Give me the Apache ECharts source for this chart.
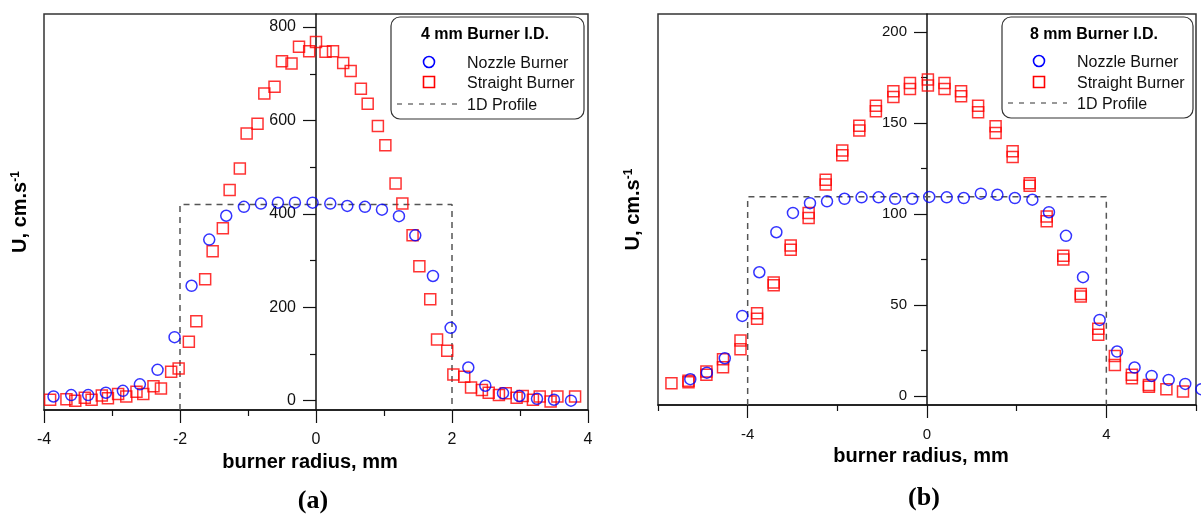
<!DOCTYPE html>
<html>
<head>
<meta charset="utf-8">
<script src="https://cdn.jsdelivr.net/npm/echarts@6/dist/echarts.min.js"></script>
<style>
html,body{margin:0;padding:0;background:#fff;}
#chart{width:1201px;height:517px;}
</style>
</head>
<body>
<div id="chart"></div>
<script>
// ---------- Data: (a) 4 mm burner ----------
const aNozzleR = [-3.86,-3.60,-3.35,-3.09,-2.84,-2.59,-2.33,-2.08,-1.83,-1.57,-1.32,-1.06,-0.81,-0.56,-0.31,-0.05,0.21,0.46,0.72,0.97,1.22,1.46,1.72,1.98,2.24,2.49,2.75,2.99,3.25,3.50,3.75];
const aNozzleU = [9,12,12,17,21,35,66,136,246,345,396,415,422,424,424,424,422,417,415,409,395,354,267,156,71,32,16,10,4,2,0];
const aStraightR = [-3.91,-3.67,-3.54,-3.40,-3.30,-3.15,-3.06,-2.91,-2.79,-2.64,-2.54,-2.39,-2.28,-2.13,-2.02,-1.87,-1.76,-1.63,-1.52,-1.37,-1.27,-1.12,-1.02,-0.86,-0.76,-0.61,-0.50,-0.36,-0.25,-0.10,0.00,0.14,0.25,0.40,0.51,0.66,0.76,0.91,1.02,1.17,1.27,1.42,1.52,1.68,1.78,1.93,2.02,2.18,2.28,2.44,2.54,2.69,2.79,2.95,3.04,3.19,3.29,3.45,3.55,3.81];
const aStraightU = [2,3,0,6,2,11,5,14,9,19,14,31,26,62,69,126,170,260,320,369,451,497,572,593,658,672,727,722,758,748,768,747,748,723,706,668,636,588,547,465,422,354,288,217,131,107,56,51,28,23,17,12,16,6,10,2,9,-2,9,9];
const aProfileR = [-2,-2,2,2];
const aProfileU = [-20,420,420,-20];

// ---------- Data: (b) 8 mm burner ----------
const bNozzleR = [-5.28,-4.91,-4.51,-4.12,-3.74,-3.36,-2.99,-2.61,-2.23,-1.84,-1.46,-1.08,-0.71,-0.33,0.05,0.44,0.82,1.20,1.57,1.96,2.35,2.72,3.10,3.48,3.85,4.24,4.63,5.01,5.39,5.76,6.12];
const bNozzleU = [9.2,12.8,20.7,44,68,90,100.6,106,107,108.4,109.2,109.2,108.4,108.4,109.4,109.2,108.8,111.2,110.6,108.8,107.9,101,88,65.3,41.8,24.4,15.6,11,8.8,6.6,3.7];
const bStraightR = [-5.70,-5.32,-5.32,-4.92,-4.92,-4.55,-4.55,-4.16,-4.16,-3.79,-3.79,-3.42,-3.42,-3.04,-3.04,-2.64,-2.64,-2.26,-2.26,-1.89,-1.89,-1.51,-1.51,-1.14,-1.14,-0.75,-0.75,-0.38,-0.38,0.02,0.02,0.39,0.39,0.76,0.76,1.14,1.14,1.53,1.53,1.91,1.91,2.29,2.29,2.67,2.67,3.04,3.04,3.43,3.43,3.82,3.82,4.19,4.19,4.57,4.57,4.95,4.95,5.34,5.71];
const bStraightU = [7,8.3,7.5,13.4,11.6,20.2,15.8,30.4,25.7,45.5,42.4,62.4,60.9,82.7,80.4,100.6,97.8,118.9,116.2,135,132.3,148.6,145.9,159.6,156.5,167.5,164.4,172,168.8,174,170.7,172,168.8,167.5,164.8,159.6,156,148.3,144.6,134.5,131.4,117,115.6,98.7,96,77,75,56,54.7,36.9,33.6,22,17,11.6,9.7,6,5,3.7,2.4];
const bProfileR = [-4,-4,4,4];
const bProfileU = [-5,109.5,109.5,-5];

// ---------- Ticks ----------
const aXTicks = [-4,-2,0,2,4];
const aYTicks = [0,200,400,600,800];
const aYMinor = [100,300,500,700];
const bXTicks = [-4,0,4];
const bXMinor = [-6,-2,2,6];
const bYTicks = [0,50,100,150,200];
const bYMinor = [25,75,125,175];

const legendNames = ['Nozzle Burner', 'Straight Burner', '1D Profile'];

const zip = (xs, ys) => xs.map((x, i) => [x, ys[i]]);

const FONT = 'Liberation Sans, Arial, sans-serif';
const AX = '#111';
const BLUE = '#0000ff', RED = '#ff0000', DASH = '#555';

function mainX(grid, min, max, ticks, fs, nameGap) {
  return {
    type: 'value', gridIndex: grid, min: min, max: max, position: 'bottom',
    name: 'burner radius, mm', nameLocation: 'middle', nameGap: nameGap,
    nameTextStyle: {fontFamily: FONT, fontWeight: 'bold', fontSize: 20, color: '#000', padding: [0, 12, 0, 0]},
    axisLine: {onZero: false, lineStyle: {color: AX, width: 1.5}},
    axisTick: {show: true, length: 13, customValues: ticks, lineStyle: {color: AX, width: 1.2}},
    axisLabel: {customValues: ticks, margin: 22, fontFamily: FONT, fontSize: fs, color: '#111'},
    splitLine: {show: false}
  };
}
function minorX(grid, min, max, ticks) {
  return {
    type: 'value', gridIndex: grid, min: min, max: max, position: 'bottom',
    axisLine: {show: false, onZero: false},
    axisTick: {show: true, length: 6, customValues: ticks, lineStyle: {color: AX, width: 1.2}},
    axisLabel: {show: false}, splitLine: {show: false}
  };
}
function mainY(grid, min, max, ticks, fs, nameGap, off) {
  return {
    type: 'value', gridIndex: grid, min: min, max: max, position: 'left', offset: off,
    name: 'U, cm.s{sup|-1}', nameLocation: 'middle', nameGap: nameGap,
    nameTextStyle: {fontFamily: FONT, fontWeight: 'bold', fontSize: 20, color: '#000',
      rich: {sup: {fontFamily: FONT, fontWeight: 'bold', fontSize: 12, color: '#000', verticalAlign: 'top'}}},
    axisLine: {onZero: false, lineStyle: {color: AX, width: 1.5}},
    axisTick: {show: true, length: 13, customValues: ticks, lineStyle: {color: AX, width: 1.2}},
    axisLabel: {customValues: ticks, margin: 20, fontFamily: FONT, fontSize: fs, color: '#111'},
    splitLine: {show: false}
  };
}
function minorY(grid, min, max, ticks, off) {
  return {
    type: 'value', gridIndex: grid, min: min, max: max, position: 'left', offset: off,
    axisLine: {show: false, onZero: false},
    axisTick: {show: true, length: 6, customValues: ticks, lineStyle: {color: AX, width: 1.2}},
    axisLabel: {show: false}, splitLine: {show: false}
  };
}

const nozzleStyle = {color: 'transparent', borderColor: BLUE, borderWidth: 1.5};
const straightStyle = {color: 'transparent', borderColor: RED, borderWidth: 1.5};
const profileStyle = {color: DASH, width: 1.5, type: [6, 5]};

function legendGraphics(bx, by, bw, bh, title, titleX, symX, lineX0, lineX1, textX, y0, y1, y2) {
  const tf = '16px ' + FONT;
  return [
    {type: 'rect', shape: {x: bx, y: by, width: bw, height: bh, r: 9}, style: {fill: 'none', stroke: '#333', lineWidth: 1.2}},
    {type: 'text', style: {text: title, x: titleX, y: 35, align: 'center', verticalAlign: 'middle', font: 'bold 16px ' + FONT, fill: '#000'}},
    {type: 'circle', shape: {cx: symX, cy: y0, r: 5.5}, style: {fill: 'none', stroke: BLUE, lineWidth: 1.6}},
    {type: 'rect', shape: {x: symX - 5.5, y: y1 - 5.5, width: 11, height: 11}, style: {fill: 'none', stroke: RED, lineWidth: 1.6}},
    {type: 'line', shape: {x1: lineX0, y1: y2, x2: lineX1, y2: y2}, style: {stroke: '#333', lineWidth: 1.2, lineDash: [5, 6]}},
    {type: 'text', style: {text: legendNames[0], x: textX, y: y0 + 1.5, align: 'left', verticalAlign: 'middle', font: tf, fill: '#111'}},
    {type: 'text', style: {text: legendNames[1], x: textX, y: y1 + 1.5, align: 'left', verticalAlign: 'middle', font: tf, fill: '#111'}},
    {type: 'text', style: {text: legendNames[2], x: textX, y: y2 + 1.5, align: 'left', verticalAlign: 'middle', font: tf, fill: '#111'}}
  ];
}

const option = {
  animation: false,
  backgroundColor: '#fff',
  grid: [
    {left: 44, top: 14, width: 544, height: 396, show: true, borderColor: '#333', borderWidth: 1.5, outerBoundsMode: 'none', containLabel: false},
    {left: 658, top: 14, width: 538, height: 391, show: true, borderColor: '#333', borderWidth: 1.5, outerBoundsMode: 'none', containLabel: false}
  ],
  xAxis: [
    Object.assign(mainX(0, -4, 4, aXTicks, 16, 41), {interval: 2, minorTick: {show: true, splitNumber: 2, length: 6, lineStyle: {color: AX, width: 1.2}}}),
    mainX(1, -6, 6, bXTicks, 15, 40),
    minorX(1, -6, 6, bXMinor)
  ],
  yAxis: [
    mainY(0, -20, 828, aYTicks, 16, 286, -272),
    mainY(1, -5, 210, bYTicks, 15, 284, -269),
    minorY(0, -20, 828, aYMinor, -272),
    minorY(1, -5, 210, bYMinor, -269)
  ],
  graphic: [].concat(
    legendGraphics(391, 17, 193, 102, '4 mm Burner I.D.', 485, 429, 397, 457, 467, 62, 82, 104),
    legendGraphics(1002, 17, 191, 101, '8 mm Burner I.D.', 1094, 1039, 1008, 1067, 1077, 61, 82, 103),
    [
      {type: 'text', style: {text: '(a)', x: 313, y: 501, align: 'center', verticalAlign: 'middle', font: 'bold 26px Liberation Serif, serif', fill: '#000'}},
      {type: 'text', style: {text: '(b)', x: 924, y: 498, align: 'center', verticalAlign: 'middle', font: 'bold 26px Liberation Serif, serif', fill: '#000'}}
    ]
  ),
  series: [
    {name: legendNames[2], type: 'line', xAxisIndex: 0, yAxisIndex: 0, data: zip(aProfileR, aProfileU), symbol: 'none', lineStyle: profileStyle, z: 1},
    {name: legendNames[0], type: 'scatter', xAxisIndex: 0, yAxisIndex: 0, data: zip(aNozzleR, aNozzleU), symbol: 'circle', symbolSize: 11, itemStyle: nozzleStyle, z: 3},
    {name: legendNames[1], type: 'scatter', xAxisIndex: 0, yAxisIndex: 0, data: zip(aStraightR, aStraightU), symbol: 'rect', symbolSize: 11, itemStyle: straightStyle, z: 2},
    {name: legendNames[2], type: 'line', xAxisIndex: 1, yAxisIndex: 1, data: zip(bProfileR, bProfileU), symbol: 'none', lineStyle: profileStyle, z: 1},
    {name: legendNames[0], type: 'scatter', xAxisIndex: 1, yAxisIndex: 1, data: zip(bNozzleR, bNozzleU), symbol: 'circle', symbolSize: 11, itemStyle: nozzleStyle, clip: false, z: 3},
    {name: legendNames[1], type: 'scatter', xAxisIndex: 1, yAxisIndex: 1, data: zip(bStraightR, bStraightU), symbol: 'rect', symbolSize: 11, itemStyle: straightStyle, z: 2}
  ]
};

const chart = echarts.init(document.getElementById('chart'), null, {renderer: 'canvas'});
chart.setOption(option);
</script>
</body>
</html>
